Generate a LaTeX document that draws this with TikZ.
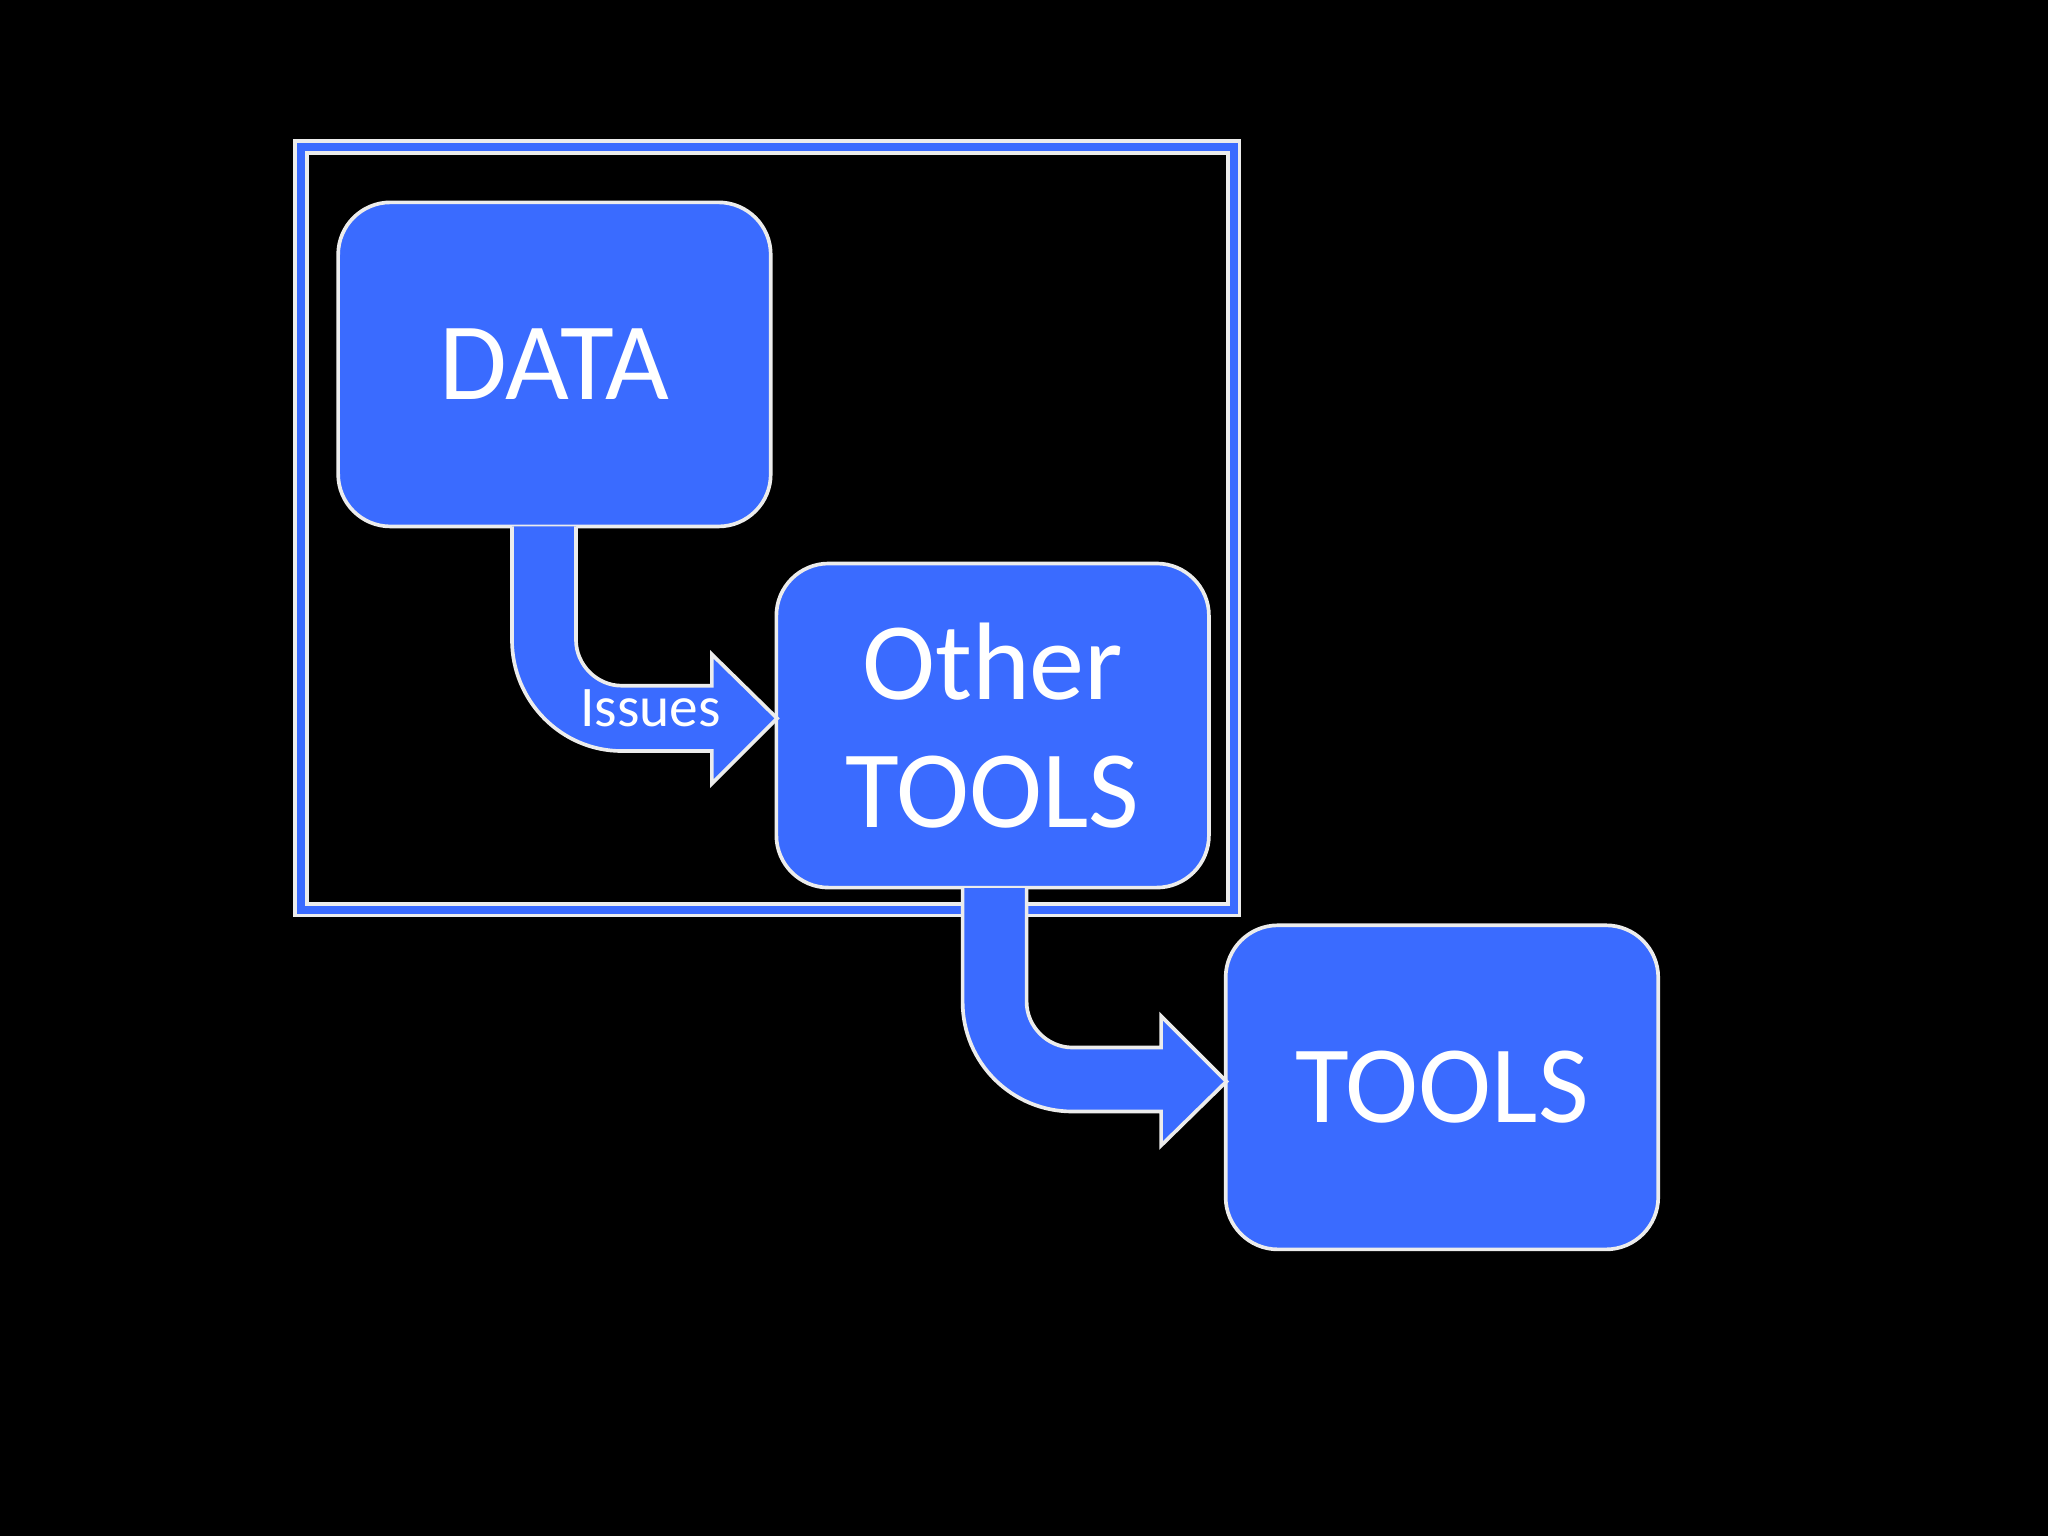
\documentclass[tikz,border=0pt]{standalone}
\usepackage{fontspec}
\setmainfont{Carlito}
\definecolor{bx}{HTML}{3A6BFF}
\begin{document}
\begin{tikzpicture}[x=0.01cm,y=-0.01cm,
  box/.style={draw=white!85!gray,line width=0.8pt,fill=bx,rounded corners=0.4cm,minimum width=3.31cm,minimum height=2.48cm,text=white,font=\fontsize{24}{30}\selectfont,align=center},
  arr/.style={draw=white!85!gray,line width=0.8pt,fill=bx}]
\fill[black] (0,0) rectangle (1568,1176);
\useasboundingbox (0,0) rectangle (1568,1176);
\filldraw[bx,draw=white!85!gray,line width=0.8pt] (226,108) rectangle (949,701);
\filldraw[black,draw=white!85!gray,line width=0.8pt] (235,117) rectangle (940,692);
\node[box] (data) at (424.5,279) {DATA};
\node[box] (other) at (760,555.5) {Other\\[-2pt]TOOLS};
\node[box] (tools) at (1104,832.5) {TOOLS};
\draw[arr] (392,403) -- (392,490) .. controls (392,537) and (430,575) .. (476,575) -- (545,575) -- (545,600) -- (595,550) -- (545,501) -- (545,525) -- (476,525) .. controls (457,525) and (441,509) .. (441,490) -- (441,403);
\draw[arr] (737,680) -- (737,767) .. controls (737,814) and (775,851) .. (821,851) -- (889,851) -- (889,877) -- (939,828) -- (889,778) -- (889,802) -- (821,802) .. controls (802,802) and (786,786) .. (786,767) -- (786,680);
\node[text=white,font=\fontsize{12.5}{15}\selectfont] (iss) at (498,542) {Issues};
\end{tikzpicture}
\end{document}
